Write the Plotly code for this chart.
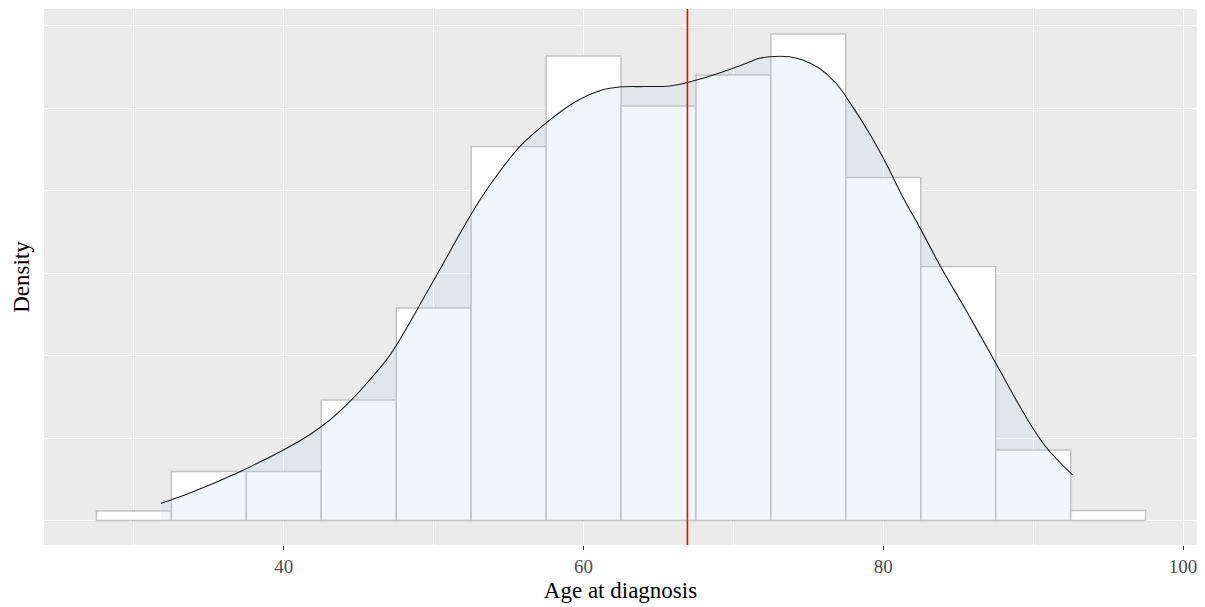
import plotly.graph_objects as go

# Histogram (density scale), bins of width 5
bin_centers = [30, 35, 40, 45, 50, 55, 60, 65, 70, 75, 80, 85, 90, 95]
bin_density = [0.00058, 0.00297, 0.00297, 0.00730, 0.01288, 0.02267, 0.02815,
               0.02512, 0.02700, 0.02948, 0.02079, 0.01539, 0.00427, 0.00061]
bin_width = 5

# Kernel density curve
kde_x = [31.8, 33.73, 37.07, 40.0, 41.73, 43.07, 44.4, 45.73, 46.85, 47.73,
         49.51, 50.62, 52.4, 53.73, 55.73, 57.51, 59.4, 61.07, 62.4, 64.07,
         65.73, 67.07, 69.07, 70.73, 71.73, 72.4, 73.73, 74.62, 75.73, 76.85,
         77.95, 79.07, 80.18, 81.29, 82.4, 83.95, 85.51, 87.51, 89.51, 90.84, 92.62]
kde_y = [0.00104, 0.00167, 0.00296, 0.00429, 0.00520, 0.00609, 0.00720, 0.00852,
         0.00973, 0.01094, 0.01377, 0.01555, 0.01841, 0.02030, 0.02265, 0.02410,
         0.02535, 0.02605, 0.02627, 0.02630, 0.02633, 0.02658, 0.02712, 0.02767,
         0.02801, 0.02811, 0.02811, 0.02791, 0.02741, 0.02650, 0.02508, 0.02347,
         0.02165, 0.01962, 0.01781, 0.01518, 0.01276, 0.00953, 0.00629, 0.00447,
         0.00276]

mean_age = 66.93

x_ticks = [40, 60, 80, 100]
x_ticklabels = ["40", "60", "80", "100"]

fig = go.Figure()

fig.add_trace(go.Bar(
    x=bin_centers, y=bin_density, width=bin_width,
    marker=dict(color="white", line=dict(color="#c2c2c2", width=1.5)),
    showlegend=False, hoverinfo="skip",
))

fig.add_trace(go.Scatter(
    x=kde_x, y=kde_y, mode="lines", fill="tozeroy",
    fillcolor="rgba(173,216,230,0.2)",
    line=dict(color="#1a1a1a", width=1.1, shape="spline", smoothing=1.0),
    showlegend=False, hoverinfo="skip",
))

fig.add_shape(type="line", x0=mean_age, x1=mean_age, xref="x",
              y0=0, y1=1, yref="paper",
              line=dict(color="#ff0000", width=1.6))

serif = "Liberation Serif, Times New Roman, serif"

fig.update_layout(
    width=1205, height=607,
    margin=dict(l=44, r=8, t=9, b=62),
    paper_bgcolor="white",
    plot_bgcolor="#ebebeb",
    font=dict(family=serif),
    xaxis=dict(
        range=[24, 100.93],
        tickvals=x_ticks, ticktext=x_ticklabels,
        ticks="outside", ticklen=4, tickwidth=1, tickcolor="#333333",
        tickfont=dict(family=serif, size=19, color="#4d4d4d"),
        showgrid=True, gridcolor="white", gridwidth=1.4,
        minor=dict(dtick=10, tick0=0, showgrid=True, gridcolor="white", gridwidth=0.8),
        zeroline=False, showline=False,
        title=dict(text="Age at diagnosis", font=dict(family=serif, size=23, color="black"),
                   standoff=6),
    ),
    yaxis=dict(
        range=[-0.001485, 0.031],
        dtick=0.01, tick0=0,
        showticklabels=False, ticks="",
        showgrid=True, gridcolor="white", gridwidth=1.4,
        minor=dict(dtick=0.005, tick0=0, showgrid=True, gridcolor="white", gridwidth=0.8),
        zeroline=False, showline=False,
        title=dict(text="Density", font=dict(family=serif, size=23, color="black"),
                   standoff=6),
    ),
)

fig.write_html("out.html")
